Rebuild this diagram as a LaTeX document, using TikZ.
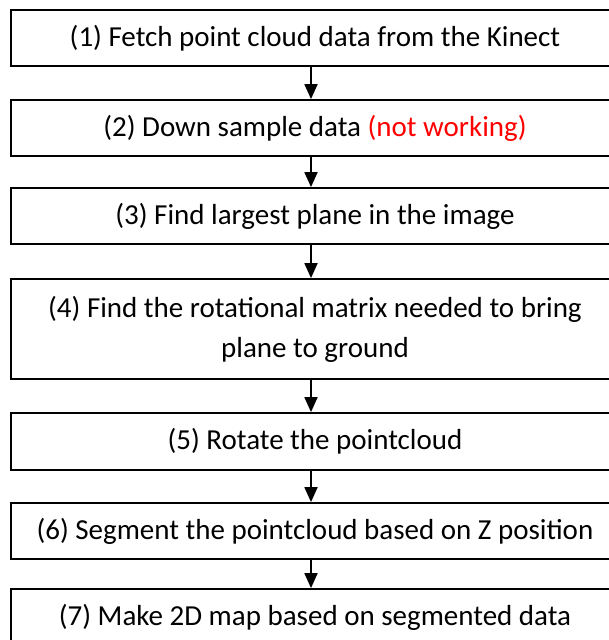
\documentclass[tikz,border=0pt]{standalone}
\usepackage{fontspec}
\setmainfont{Carlito}
\usetikzlibrary{arrows.meta}
\definecolor{notewarn}{RGB}{255,0,0}
\tikzset{
  stepbox/.style={draw=black, line width=1.8pt, rectangle, minimum width=608pt,
    inner sep=0pt, align=center, font=\fontsize{29}{40}\selectfont, fill=white},
  flow/.style={draw=black, line width=1.8pt, -{Triangle[width=13pt,length=15pt]}}
}
\begin{document}
\begin{tikzpicture}[x=1pt,y=-1pt]
\useasboundingbox (0,0) rectangle (609,640);
\clip (0,0) rectangle (609,640);
\fill[white] (0,0) rectangle (609,640);
\node[stepbox, minimum height=56pt] (s1) at (315,38) {(1) Fetch point cloud data from the Kinect};
\node[stepbox, minimum height=56pt] (s2) at (315,128) {(2) Down sample data \textcolor{notewarn}{(not working)}};
\node[stepbox, minimum height=56pt] (s3) at (315,216) {(3) Find largest plane in the image};
\node[stepbox, minimum height=100pt] (s4) at (315,329) {(4) Find the rotational matrix needed to bring\\plane to ground};
\node[stepbox, minimum height=57pt] (s5) at (315,441.5) {(5) Rotate the pointcloud};
\node[stepbox, minimum height=56pt] (s6) at (315,531) {(6) Segment the pointcloud based on Z position};
\node[stepbox, minimum height=56pt] (s7) at (315,617) {(7) Make 2D map based on segmented data};
\foreach \a/\b in {s1/s2,s2/s3,s3/s4,s4/s5,s5/s6,s6/s7}
  \draw[flow] ([xshift=-4pt]\a.south) -- ([xshift=-4pt]\b.north);
\end{tikzpicture}
\end{document}
